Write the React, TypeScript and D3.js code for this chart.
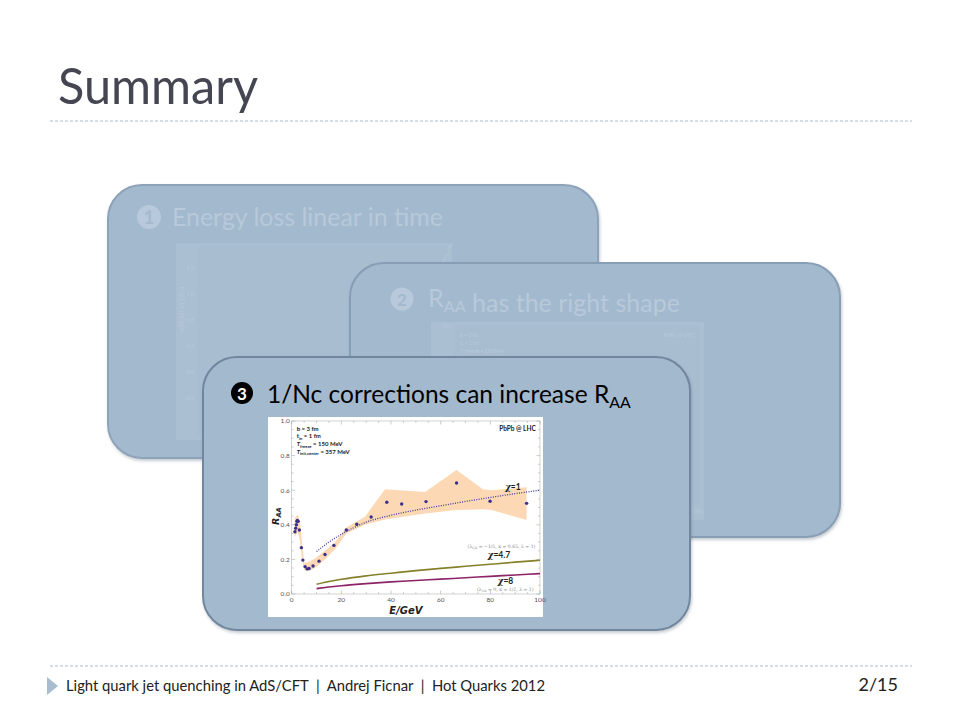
import React from 'react';
import * as d3 from 'd3';

// R_AA data points (E in GeV)
const pointE = [1.3, 1.6, 1.9, 2.1, 2.3, 2.6, 3.1, 3.9, 4.5, 5.4, 6.2, 7.0, 8.6, 11.0, 13.4, 17.0, 22.0, 26.2, 32.0, 38.3, 44.3, 54.1, 66.4, 79.9, 94.6];
const pointR = [0.36, 0.38, 0.40, 0.42, 0.425, 0.42, 0.37, 0.268, 0.196, 0.158, 0.145, 0.147, 0.162, 0.19, 0.228, 0.281, 0.37, 0.403, 0.445, 0.53, 0.52, 0.534, 0.642, 0.536, 0.524];

// uncertainty band
const bandE = [1.2, 2.4, 3.3, 4.0, 5.0, 6.7, 9.4, 13.4, 17.5, 22.0, 29.5, 37.6, 53.7, 66.4, 77.0, 80.5, 94.6];
const bandLo = [0.33, 0.36, 0.31, 0.22, 0.14, 0.132, 0.15, 0.2, 0.26, 0.35, 0.40, 0.43, 0.466, 0.485, 0.49, 0.486, 0.428];
const bandHi = [0.44, 0.46, 0.42, 0.32, 0.18, 0.185, 0.205, 0.25, 0.30, 0.385, 0.447, 0.605, 0.59, 0.717, 0.605, 0.60, 0.617];

// model curves
const curveE = [10, 15, 20, 30, 40, 50, 60, 70, 80, 90, 100];
const chi1R = [0.245, 0.30, 0.345, 0.415, 0.455, 0.485, 0.51, 0.535, 0.558, 0.58, 0.60];
const chi47R = [0.056, 0.072, 0.085, 0.105, 0.12, 0.135, 0.148, 0.16, 0.172, 0.184, 0.195];
const chi8R = [0.031, 0.040, 0.048, 0.06, 0.07, 0.078, 0.086, 0.094, 0.102, 0.11, 0.118];

const xTicks = [0, 20, 40, 60, 80, 100];
const yTicks = [0, 0.2, 0.4, 0.6, 0.8, 1.0];

// faded remnants of the previous slides' plots
const fadedYTicks1 = ['1.2', '1.0', '0.8', '0.6', '0.4', '0.2'];
const fadedInfo2 = ['b = 3 fm', 't₀ = 1 fm', 'T_freeze = 150 MeV'];

const FONT = 'Lato, "Open Sans", sans-serif';
const CARD = '#a3b9ce';
const FADE = '#b7c9da';

const Sub: React.FC<{ main: string; sub: string }> = ({ main, sub }) => (
  <>
    {main}
    <tspan fontSize="65%" dy="0.3em">{sub}</tspan>
    <tspan dy="-0.3em"></tspan>
  </>
);

const Card: React.FC<{ x: number; y: number; w: number; h: number; stroke: string }> = ({ x, y, w, h, stroke }) => (
  <rect x={x} y={y} width={w} height={h} rx={34} ry={34} fill={CARD} stroke={stroke} strokeWidth={2} filter="url(#shadow)" />
);

const RaaChart: React.FC = () => {
  const x = d3.scaleLinear().domain([0, 100]).range([291.7, 540]);
  const y = d3.scaleLinear().domain([0, 1]).range([594, 421]);

  const band = d3.area<number>()
    .x((_, i) => x(bandE[i]))
    .y0((_, i) => y(bandLo[i]))
    .y1((_, i) => y(bandHi[i]));

  const line = (vals: number[]) => d3.line<number>()
    .x((_, i) => x(curveE[i]))
    .y(d => y(d))
    .curve(d3.curveMonotoneX)(vals) || '';

  const minorX = d3.range(0, 101, 5);
  const minorY = d3.range(0, 1.001, 0.05);
  const [x0, x1] = x.range();
  const [yb, yt] = y.range();

  return (
    <g>
      <rect x={268} y={417} width={275} height={200} fill="#fff" />
      <path d={band(bandE) || ''} fill="#fcd9b4" />
      {/* frame */}
      <rect x={x0} y={yt} width={x1 - x0} height={yb - yt} fill="none" stroke="#b5b5b5" strokeWidth={0.6} />
      {minorX.map(v => {
        const len = v % 20 === 0 ? 3.5 : 1.8;
        return (
          <g key={'mx' + v} stroke="#999" strokeWidth={0.5}>
            <line x1={x(v)} x2={x(v)} y1={yb} y2={yb - len} />
            <line x1={x(v)} x2={x(v)} y1={yt} y2={yt + len} />
          </g>
        );
      })}
      {minorY.map(v => {
        const major = Math.abs(v * 5 - Math.round(v * 5)) < 1e-6;
        const len = major ? 3.5 : 1.8;
        return (
          <g key={'my' + v.toFixed(2)} stroke="#999" strokeWidth={0.5}>
            <line x1={x0} x2={x0 + len} y1={y(v)} y2={y(v)} />
            <line x1={x1} x2={x1 - len} y1={y(v)} y2={y(v)} />
          </g>
        );
      })}
      {yTicks.map(v => (
        <text key={'yl' + v} x={x0 - 2} y={y(v) + 2.3} fontSize={6.5} textAnchor="end" fill="#555" fontFamily={FONT}>{v.toFixed(1)}</text>
      ))}
      {xTicks.map(v => (
        <text key={'xl' + v} x={x(v)} y={yb + 8} fontSize={6.5} textAnchor="middle" fill="#555" fontFamily={FONT}>{v}</text>
      ))}
      {/* curves */}
      <path d={line(chi47R)} fill="none" stroke="#85812a" strokeWidth={1.6} />
      <path d={line(chi8R)} fill="none" stroke="#8c2467" strokeWidth={1.6} />
      <path d={line(chi1R)} fill="none" stroke="#3c3c9c" strokeWidth={1.3} strokeDasharray="1 1.4" />
      {/* points */}
      {pointE.map((e, i) => (
        <circle key={'p' + i} cx={x(e)} cy={y(pointR[i])} r={1.7} fill="#3b2f8c" />
      ))}
      {/* annotations */}
      <g fontFamily={FONT} fontSize={6} fontWeight="bold" fill="#222">
        <text x={x(2)} y={y(0.945)}>b = 3 fm</text>
        <text x={x(2)} y={y(0.9)}>t<tspan fontSize="70%" dy="1.5">in</tspan><tspan dy="-1.5"> = 1 fm</tspan></text>
        <text x={x(2)} y={y(0.855)}><tspan fontStyle="italic">T</tspan><tspan fontSize="70%" dy="1.5">freeze</tspan><tspan dy="-1.5"> = 150 MeV</tspan></text>
        <text x={x(2)} y={y(0.81)}><tspan fontStyle="italic">T</tspan><tspan fontSize="70%" dy="1.5">init,center</tspan><tspan dy="-1.5"> = 357 MeV</tspan></text>
        <text x={x(98.3)} y={y(0.94)} textAnchor="end" fontSize={6.5}>PbPb @ LHC</text>
      </g>
      <g fontFamily={FONT} fontWeight="bold" fill="#222" fontSize={8.5}>
        <text x={x(86)} y={y(0.6)}><tspan fontStyle="italic" fontFamily="DejaVu Serif">χ</tspan>=1</text>
        <text x={x(79)} y={y(0.21)}><tspan fontStyle="italic" fontFamily="DejaVu Serif">χ</tspan>=4.7</text>
        <text x={x(83)} y={y(0.055)}><tspan fontStyle="italic" fontFamily="DejaVu Serif">χ</tspan>=8</text>
      </g>
      <g fontFamily="DejaVu Serif" fontSize={4.6} fill="#888" textAnchor="middle">
        <text x={x(84.5)} y={y(0.265)}>(λ<tspan fontSize="70%" dy="1">GB</tspan><tspan dy="-1"> = −1/5, κ = 0.65, λ = 1)</tspan></text>
        <text x={x(86)} y={y(0.02)}>(λ<tspan fontSize="70%" dy="1">GB</tspan><tspan dy="-1"> = 0, κ = 1/2, λ = 1)</tspan></text>
      </g>
      <text transform={`translate(${x0 - 13},${y(0.45)}) rotate(-90)`} textAnchor="middle" fontSize={9.5} fontWeight="bold" fontStyle="italic" fontFamily="DejaVu Sans" fill="#222">
        R<tspan fontSize="70%" dy="2">AA</tspan>
      </text>
      <text x={x(46)} y={yb + 20} textAnchor="middle" fontSize={10} fontWeight="bold" fontStyle="italic" fontFamily="DejaVu Sans" fill="#222">E/GeV</text>
    </g>
  );
};

const App: React.FC = () => {
  return (
    <svg width={960} height={720} style={{ position: 'absolute', left: 0, top: 0, background: '#fff' }}>
      <defs>
        <filter id="shadow" x="-10%" y="-10%" width="120%" height="130%">
          <feDropShadow dx={1} dy={2} stdDeviation={1.5} floodColor="#5a6b7d" floodOpacity={0.35} />
        </filter>
      </defs>

      {/* header */}
      <text x={58} y={104} fontSize={50} fontFamily={FONT} fill="#464652" textLength={200} lengthAdjust="spacingAndGlyphs">Summary</text>
      <line x1={50} x2={912} y1={121} y2={121} stroke="#a9bccb" strokeWidth={1} strokeDasharray="3 2" />

      {/* card 1 */}
      <Card x={108} y={185} w={490} h={273} stroke="#8ea3b9" />
      <circle cx={149} cy={217} r={12} fill={FADE} />
      <text x={149} y={224} textAnchor="middle" fontSize={18} fontWeight="bold" fontFamily={FONT} fill={CARD}>1</text>
      <text x={172} y={226} fontSize={25} fontFamily={FONT} fill={FADE} textLength={271} lengthAdjust="spacingAndGlyphs">Energy loss linear in time</text>
      <rect x={176} y={243} width={276} height={197} fill="#abbfd3" />
      <rect x={196} y={246} width={252} height={190} fill="#a9bdd1" stroke="#b0c3d6" strokeWidth={0.6} />
      {fadedYTicks1.map((t, i) => (
        <text key={t} x={194} y={270 + i * 26} fontSize={5.5} textAnchor="end" fontFamily={FONT} fill={FADE}>{t}</text>
      ))}
      <text transform="translate(184,312) rotate(-90)" textAnchor="middle" fontSize={7} fontStyle="italic" fontFamily="DejaVu Serif" fill={FADE}>−(dE/dt)/(TE₀)</text>
      <path d="M443,262 L447,254 M449,249 L452,244" stroke={FADE} strokeWidth={1} />

      {/* card 2 */}
      <Card x={350} y={263} w={490} h={274} stroke="#889eb5" />
      <circle cx={402} cy={299} r={11.5} fill={FADE} />
      <text x={402} y={305.5} textAnchor="middle" fontSize={17} fontWeight="bold" fontFamily={FONT} fill={CARD}>2</text>
      <text x={428} y={307} fontSize={25} fontFamily={FONT} fill={FADE}><Sub main="R" sub="AA" /> has the right shape</text>
      <rect x={431} y={322} width={273} height={198} fill="#abbfd3" />
      <rect x={453} y={325} width={248} height={180} fill="#a9bdd1" stroke="#b0c3d6" strokeWidth={0.6} />
      <text x={450} y={328} fontSize={5} textAnchor="end" fontFamily={FONT} fill={FADE}>1.0</text>
      {fadedInfo2.map((t, i) => (
        <text key={t} x={460} y={337 + i * 8} fontSize={5} fontFamily={FONT} fill={FADE}>{t}</text>
      ))}
      <text x={694} y={337} fontSize={5.5} textAnchor="end" fontFamily={FONT} fill={FADE}>PbPb @ LHC</text>
      <text x={702} y={513} fontSize={5} textAnchor="end" fontFamily={FONT} fill={FADE}>100</text>

      {/* card 3 */}
      <Card x={203} y={357} w={487} h={273} stroke="#72879e" />
      <circle cx={242} cy={393} r={11} fill="#000" />
      <text x={242} y={399.5} textAnchor="middle" fontSize={17} fontWeight="bold" fontFamily={FONT} fill="#fff">3</text>
      <text x={267} y={403} fontSize={24.5} fontFamily={FONT} fill="#000">1/Nc corrections can increase <Sub main="R" sub="AA" /></text>
      <RaaChart />

      {/* footer */}
      <line x1={50} x2={912} y1={666} y2={666} stroke="#a9bccb" strokeWidth={1} strokeDasharray="3 2" />
      <path d="M47,677 L58,686 L47,695 Z" fill="#a8bdd0" />
      <text x={66} y={691} fontSize={15} fontFamily={FONT} fill="#222" textLength={479} lengthAdjust="spacingAndGlyphs" xmlSpace="preserve">Light quark jet quenching in AdS/CFT  |  Andrej Ficnar  |  Hot Quarks 2012</text>
      <text x={898} y={691} fontSize={18} textAnchor="end" fontFamily={FONT} fill="#222">2/15</text>
    </svg>
  );
};

export default App;
